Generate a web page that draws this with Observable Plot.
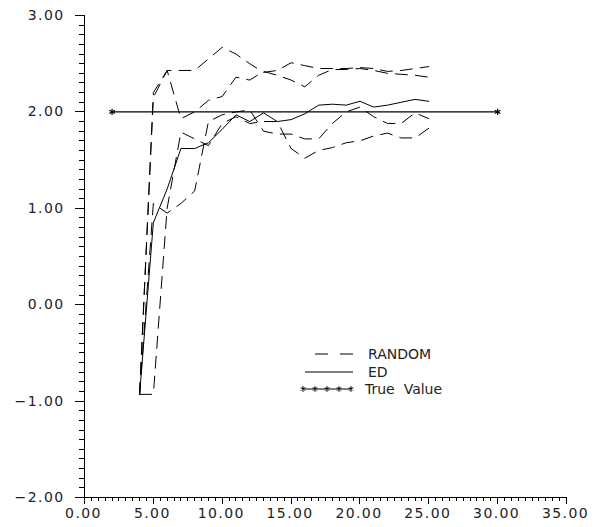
<!DOCTYPE html>
<html>
<head>
<meta charset="utf-8">
<script src="https://cdn.jsdelivr.net/npm/d3@7"></script>
<script src="https://cdn.jsdelivr.net/npm/@observablehq/plot@0.6"></script>
<style>
  html, body { margin: 0; padding: 0; background: #fff; }
  #wrap { position: relative; width: 600px; height: 527px; }
  #ticks { position: absolute; left: 0; top: 0; pointer-events: none; }
  #legend { position: absolute; left: 290px; top: 335px; pointer-events: none; }
  #wrap svg text { letter-spacing: 1.4px; }
  #wrap #legend text { letter-spacing: 0 !important; }
</style>
</head>
<body>
<div id="wrap"></div>
<script>
// ---- data ----
const steps = [4,5,6,7,8,9,10,11,12,13,14,15,16,17,18,19,20,21,22,23,24,25];
const random1 = [-0.93,2.20,2.43,2.43,2.43,2.55,2.67,2.60,2.50,2.41,2.43,2.51,2.48,2.45,2.45,2.45,2.46,2.45,2.42,2.43,2.45,2.47];
const random2 = [-0.93,2.15,2.43,1.93,2.00,2.12,2.16,2.36,2.33,2.42,2.38,2.33,2.26,2.38,2.44,2.44,2.45,2.43,2.40,2.39,2.38,2.36];
const random3 = [-0.93,1.05,0.95,1.05,1.18,1.90,1.97,2.00,2.02,1.80,1.77,1.77,1.72,1.72,1.88,2.00,2.05,1.95,1.88,1.88,1.99,1.93];
const random4 = [-0.93,-0.93,1.00,1.79,1.72,1.65,1.88,1.95,1.88,1.90,1.90,1.62,1.52,1.60,1.63,1.68,1.70,1.75,1.78,1.73,1.73,1.83];
const ed      = [-0.93,0.85,1.20,1.62,1.62,1.68,1.82,1.97,1.90,1.99,1.90,1.92,1.98,2.07,2.08,2.07,2.11,2.05,2.07,2.10,2.13,2.11];
const trueX = [2, 30];
const trueY = [2, 2];
const xMajor = [0,5,10,15,20,25,30,35];
const yMajor = [-2,-1,0,1,2,3];
const legendLabels = ["RANDOM", "ED", "True  Value"];

// ---- derived tables ----
const randomSeries = [random1, random2, random3, random4];
const randomRows = randomSeries.flatMap((vals, i) => steps.map((s, j) => ({x: s, y: vals[j], run: "r" + i})));
const edRows = steps.map((s, j) => ({x: s, y: ed[j]}));
const trueRows = trueX.map((x, i) => ({x, y: trueY[i]}));
const xMinor = d3.range(0, 71).map(i => i / 2);
const yMinor = d3.range(0, 51).map(i => -2 + i / 10);
const fmt = d3.format(".2f");

const W = 600, H = 527, ML = 84, MR = 34, MT = 15, MB = 30;
const FW = W - ML - MR, FH = H - MT - MB;
const X0 = 0, X1 = 35, Y0 = -2, Y1 = 3;
const pxX = (X1 - X0) / FW;
const pxY = (Y1 - Y0) / FH;

const chart = Plot.plot({
  width: W,
  height: H,
  marginLeft: ML,
  marginRight: MR,
  marginTop: MT,
  marginBottom: MB,
  x: {domain: [X0, X1], label: null, axis: null},
  y: {domain: [Y0, Y1], label: null, axis: null},
  style: {fontFamily: "DejaVu Sans", fontSize: "14px", background: "#fff"},
  marks: [
    // tick labels
    Plot.text(yMajor, {y: d => d, x: X0 - 20 * pxX, text: d => fmt(d), textAnchor: "end", fill: "#222", fontSize: 14}),
    Plot.text(xMajor, {x: d => d, y: Y0 - 16 * pxY, text: d => fmt(d), textAnchor: "middle", dx: -1, fill: "#222", fontSize: 14}),
    // axis lines
    Plot.ruleX([X0], {y1: Y0, y2: Y1, stroke: "black"}),
    Plot.ruleY([Y0], {x1: X0, x2: X1, stroke: "black"}),
    // series
    Plot.line(randomRows, {x: "x", y: "y", z: "run", stroke: "black", strokeWidth: 1, strokeDasharray: "12,8"}),
    Plot.line(edRows, {x: "x", y: "y", stroke: "black", strokeWidth: 1}),
    Plot.line(trueRows, {x: "x", y: "y", stroke: "black", strokeWidth: 1.2}),
    Plot.dot(trueRows, {x: "x", y: "y", symbol: "asterisk", r: 3, stroke: "black", strokeWidth: 1.2})
  ]
});
document.getElementById("wrap").appendChild(chart);

// ---- tick marks: overlay positioned with the chart's own scales ----
const sx = chart.scale("x"), sy = chart.scale("y");
const tk = d3.select("#wrap").append("svg")
  .attr("id", "ticks").attr("width", W).attr("height", H);
const ax = sx.apply(X0), ay = sy.apply(Y0);
yMinor.forEach(v => {
  const y = Math.round(sy.apply(v)) + 0.5;
  const len = yMajor.some(m => Math.abs(m - v) < 1e-9) ? 9 : 5;
  tk.append("line").attr("x1", ax - len).attr("x2", ax).attr("y1", y).attr("y2", y)
    .attr("stroke", "#000").attr("stroke-width", 1);
});
xMinor.forEach(v => {
  const x = Math.round(sx.apply(v)) + 0.5;
  const len = xMajor.some(m => Math.abs(m - v) < 1e-9) ? 7 : 4;
  tk.append("line").attr("x1", x).attr("x2", x).attr("y1", ay).attr("y2", ay + len)
    .attr("stroke", "#000").attr("stroke-width", 1);
});

// ---- legend (small overlay, local coordinates) ----
const leg = d3.select("#wrap").append("svg")
  .attr("id", "legend").attr("width", 200).attr("height", 70);
const rows = [
  {label: legendLabels[0], y: 19, kind: "dash"},
  {label: legendLabels[1], y: 37, kind: "solid"},
  {label: legendLabels[2], y: 54, kind: "star"}
];
rows.forEach(r => {
  if (r.kind === "dash") {
    leg.append("line").attr("x1", 25).attr("x2", 63).attr("y1", r.y).attr("y2", r.y)
      .attr("stroke", "#000").attr("stroke-dasharray", "13,12");
  } else if (r.kind === "solid") {
    leg.append("line").attr("x1", 15).attr("x2", 63).attr("y1", r.y).attr("y2", r.y).attr("stroke", "#000");
  } else {
    leg.append("line").attr("x1", 12).attr("x2", 62).attr("y1", r.y).attr("y2", r.y).attr("stroke", "#000");
    const sym = d3.symbol(d3.symbolAsterisk, 20)();
    [13, 25, 37, 49, 61].forEach(x => {
      leg.append("path").attr("d", sym).attr("transform", `translate(${x},${r.y})`)
        .attr("stroke", "#000").attr("stroke-width", 1.1).attr("fill", "none");
    });
  }
  leg.append("text").attr("x", r.kind === "star" ? 75 : 78).attr("y", r.y).attr("dy", "0.36em")
    .attr("font-family", "DejaVu Sans").attr("font-size", 14).attr("fill", "#222")
    .attr("xml:space", "preserve").style("white-space", "pre").style("letter-spacing", "0px")
    .text(r.label);
});
</script>
</body>
</html>
